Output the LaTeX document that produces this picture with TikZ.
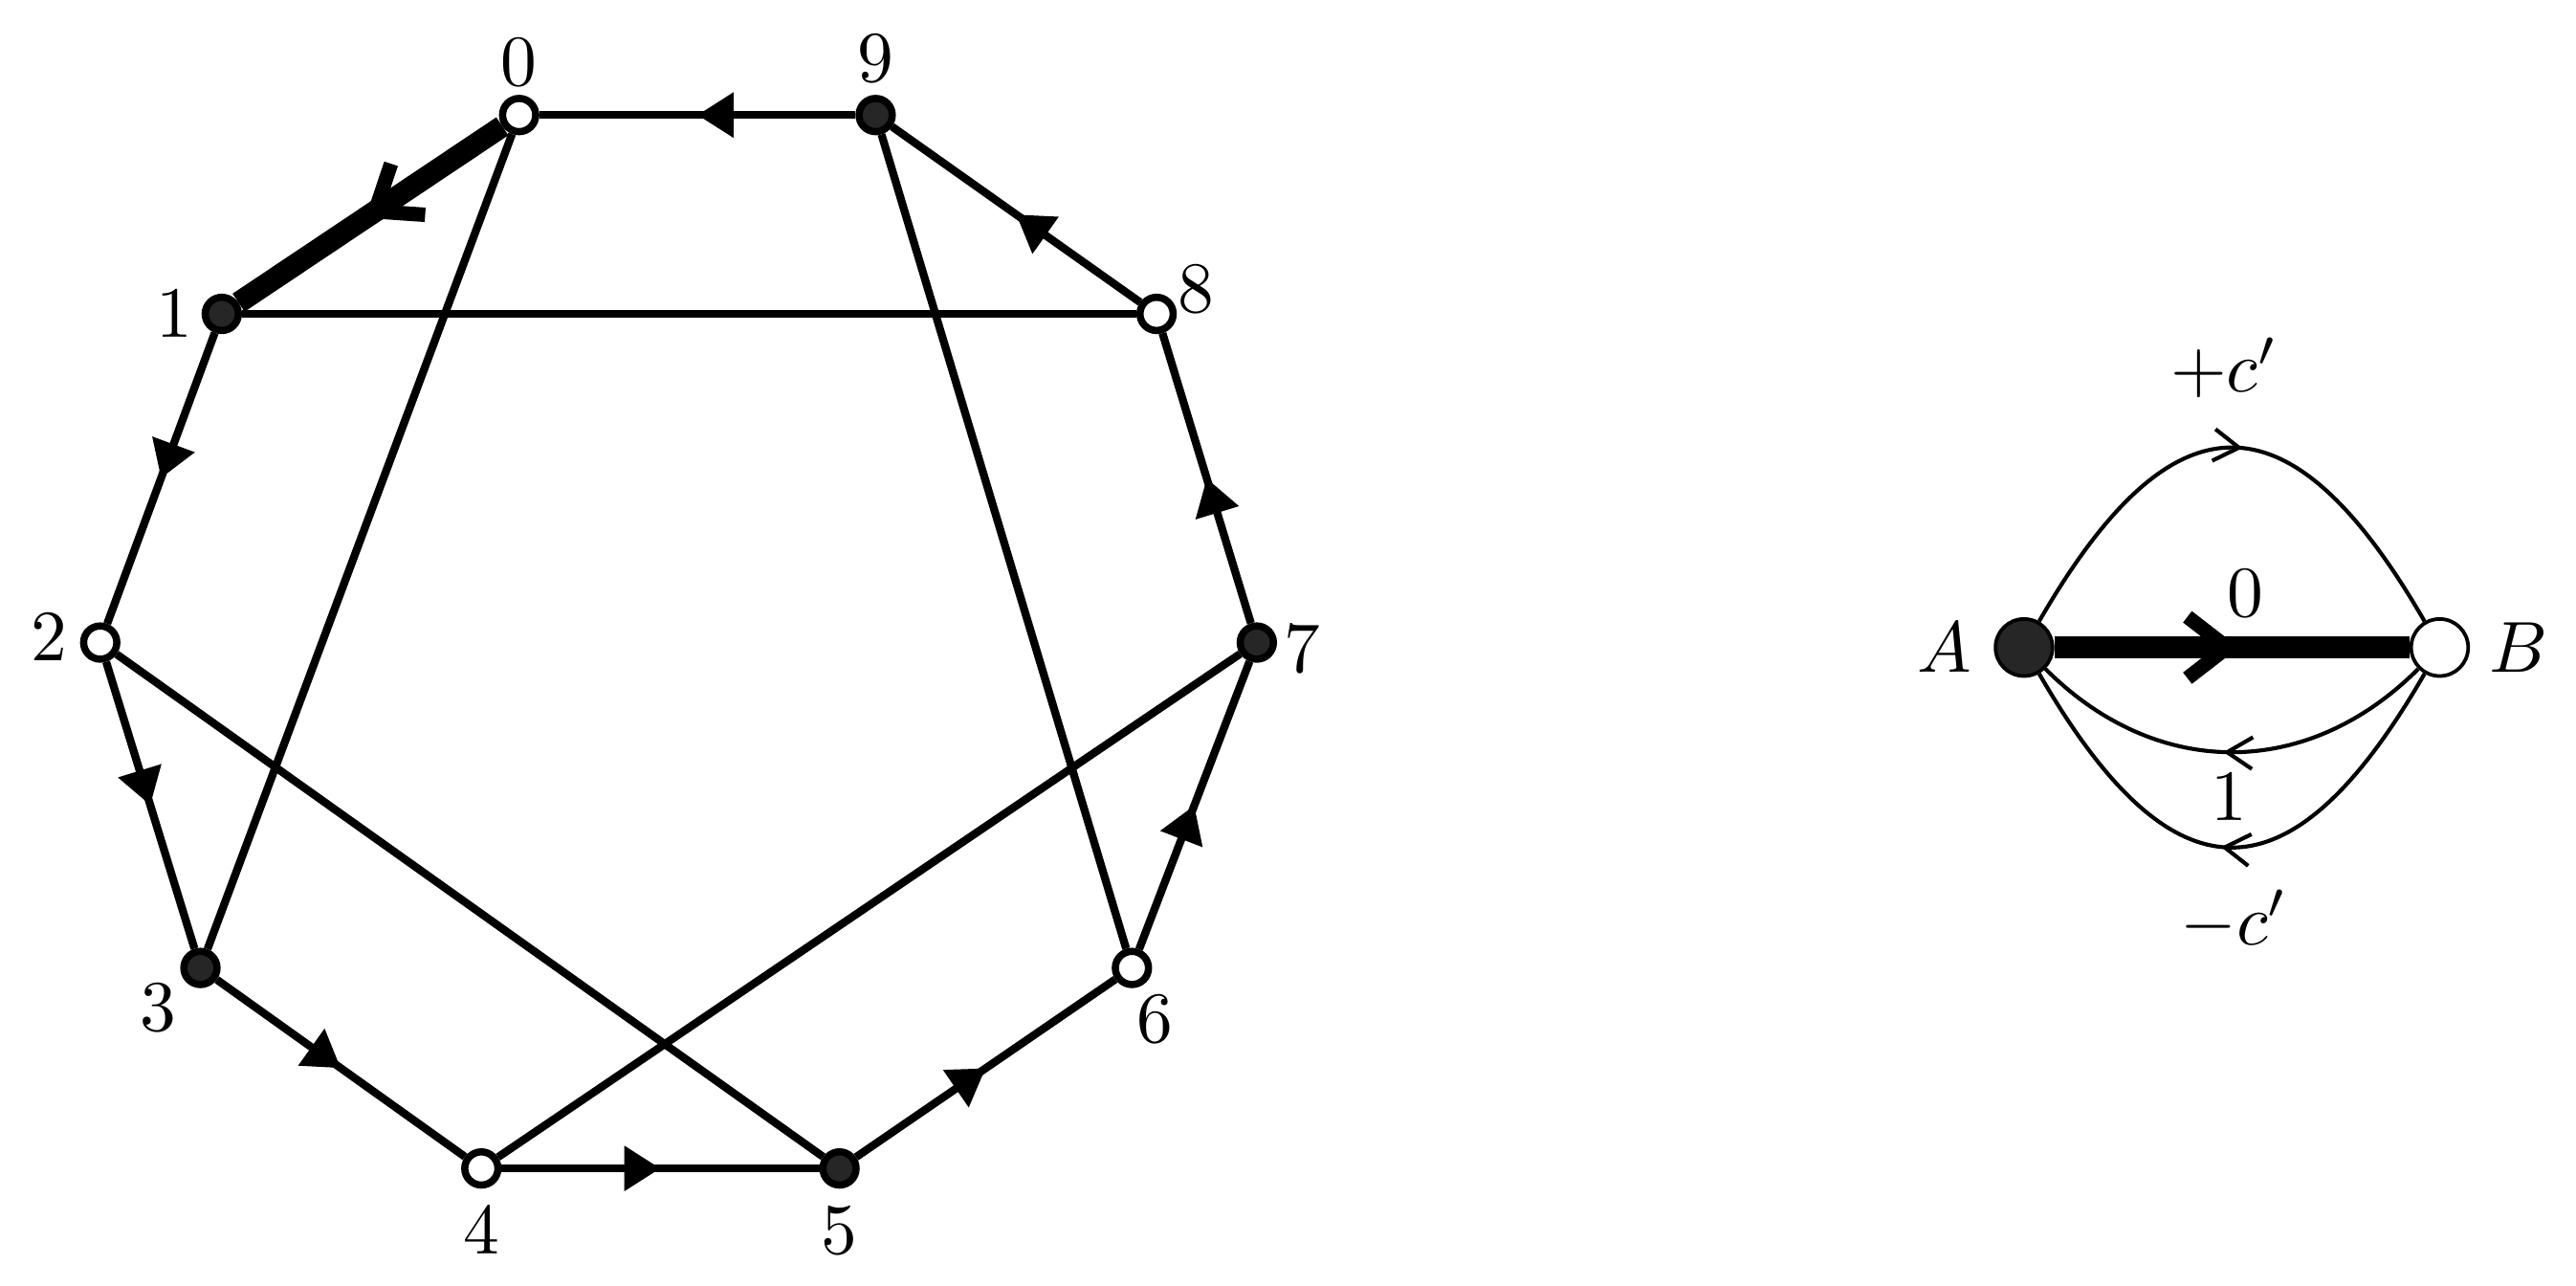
\documentclass[tikz,border=0pt]{standalone}
\usepackage{amsmath}
\usepackage{tikz}
\usetikzlibrary{arrows.meta,decorations.markings}

\tikzset{
  wvert/.style={circle,draw,fill=white,line width=1pt,inner sep=0pt,minimum size=4.6pt},
  bvert/.style={wvert,fill=black!85},
  wbig/.style={circle,draw,fill=white,line width=0.5pt,inner sep=0pt,minimum size=7.9pt},
  bbig/.style={wbig,fill=black!85},
  fwd/.style={line width=1.1pt,postaction={decorate},
    decoration={markings,mark=at position 0.5 with {\arrow{Triangle[length=5pt,width=6pt]}}}},
  heavy/.style={line width=3pt,postaction={decorate},
    decoration={markings,mark=at position 0.52 with {\arrow{Straight Barb[length=5.5pt,width=8.5pt,line width=2pt]}}}},
  flow/.style={line width=0.55pt,postaction={decorate},
    decoration={markings,mark=at position 0.52 with {\arrow{Straight Barb[length=3.5pt,width=4.4pt]}}}},
}

\begin{document}
\begin{tikzpicture}[x=0.8cm,y=0.8cm]
                 \useasboundingbox (0,0) rectangle (15.68,7.82);
                 % the ten vertices
                 \node[wvert](n0)at(3.16,7.12){};
                 \node[bvert](n9)at(5.33,7.12){};
                 \node[wvert](n8)at(7.04,5.91){};
                 \node[bvert](n7)at(7.65,3.91){};
                 \node[wvert](n6)at(6.89,1.93){};
                 \node[bvert](n5)at(5.11,0.71){};
                 \node[wvert](n4)at(2.93,0.71){};
                 \node[bvert](n3)at(1.22,1.93){};
                 \node[wvert](n2)at(0.61,3.91){};
                 \node[bvert](n1)at(1.35,5.91){};
                 \node[yshift=7.3pt](l0)at(n0){$0$};
                 \node[yshift=7.8pt](l9)at(n9){$9$};
                 \node[xshift=5.5pt,yshift=3.4pt](l8)at(n8){$8$};
                 \node[xshift=6.3pt,yshift=-0.9pt](l7)at(n7){$7$};
                 \node[xshift=3.2pt,yshift=-7.1pt](l6)at(n6){$6$};
                 \node[yshift=-8.6pt](l5)at(n5){$5$};
                 \node[yshift=-8.6pt](l4)at(n4){$4$};
                 \node[xshift=-5.9pt,yshift=-5.5pt](l3)at(n3){$3$};
                 \node[xshift=-7.1pt,yshift=0.7pt](l2)at(n2){$2$};
                 \node[xshift=-6.6pt](l1)at(n1){$1$};
                 % the cycle
                 \draw[fwd](n9)--(n0);
                 \draw[heavy](n0)--(n1);
                 \draw[fwd](n1)--(n2);
                 \draw[fwd](n2)--(n3);
                 \draw[fwd](n3)--(n4);
                 \draw[fwd](n4)--(n5);
                 \draw[fwd](n5)--(n6);
                 \draw[fwd](n6)--(n7);
                 \draw[fwd](n7)--(n8);
                 \draw[fwd](n8)--(n9);
                 % chords
                 \draw[line width=1.1pt](n0)--(n3);
                 \draw[line width=1.1pt](n9)--(n6);
                 \draw[line width=1.1pt](n1)--(n8);
                 \draw[line width=1.1pt](n2)--(n5);
                 \draw[line width=1.1pt](n7)--(n4);
                 % the two-vertex graph
                 \node[bbig](A)at(12.32,3.88){};
                 \node[wbig](B)at(14.85,3.88){};
                 \node[xshift=-11pt](lA)at(A){$A$};
                 \node[xshift=11pt](lB)at(B){$B$};
                 \draw[flow](A)to[bend left=60,looseness=1.78](B);
                 \draw[flow](B)to[bend left=45,looseness=1.08](A);
                 \draw[flow](B)to[bend left=60,looseness=1.78](A);
                 \draw[heavy](A)--(B);
                 \node(pc)at(13.54,5.58){$+c'$};
                 \node(z)at(13.67,4.21){$0$};
                 \node(o)at(13.57,2.97){$1$};
                 \node(mc)at(13.60,2.22){$-c'$};
               \end{tikzpicture}
\end{document}
